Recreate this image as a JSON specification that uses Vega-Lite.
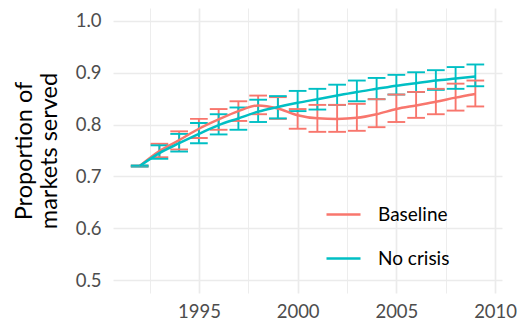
{
  "$schema": "https://vega.github.io/schema/vega-lite/v6.json",
  "width": 389,
  "height": 285,
  "autosize": "none",
  "padding": {"left": 113, "top": 8, "right": 15, "bottom": 29},
  "background": "white",
  "config": {
    "font": "Lato",
    "view": {"stroke": null}
  },
  "data": {
    "values": [
      {"year": 1992, "scenario": "Baseline", "mean": 0.720, "lo": 0.719, "hi": 0.721},
      {"year": 1993, "scenario": "Baseline", "mean": 0.749, "lo": 0.737, "hi": 0.763},
      {"year": 1994, "scenario": "Baseline", "mean": 0.770, "lo": 0.752, "hi": 0.787},
      {"year": 1995, "scenario": "Baseline", "mean": 0.792, "lo": 0.774, "hi": 0.811},
      {"year": 1996, "scenario": "Baseline", "mean": 0.810, "lo": 0.790, "hi": 0.830},
      {"year": 1997, "scenario": "Baseline", "mean": 0.826, "lo": 0.807, "hi": 0.845},
      {"year": 1998, "scenario": "Baseline", "mean": 0.837, "lo": 0.820, "hi": 0.856},
      {"year": 1999, "scenario": "Baseline", "mean": 0.831, "lo": 0.811, "hi": 0.853},
      {"year": 2000, "scenario": "Baseline", "mean": 0.818, "lo": 0.792, "hi": 0.830},
      {"year": 2001, "scenario": "Baseline", "mean": 0.812, "lo": 0.786, "hi": 0.838},
      {"year": 2002, "scenario": "Baseline", "mean": 0.811, "lo": 0.786, "hi": 0.838},
      {"year": 2003, "scenario": "Baseline", "mean": 0.813, "lo": 0.788, "hi": 0.840},
      {"year": 2004, "scenario": "Baseline", "mean": 0.820, "lo": 0.795, "hi": 0.849},
      {"year": 2005, "scenario": "Baseline", "mean": 0.830, "lo": 0.805, "hi": 0.858},
      {"year": 2006, "scenario": "Baseline", "mean": 0.837, "lo": 0.813, "hi": 0.863},
      {"year": 2007, "scenario": "Baseline", "mean": 0.844, "lo": 0.820, "hi": 0.869},
      {"year": 2008, "scenario": "Baseline", "mean": 0.852, "lo": 0.827, "hi": 0.879},
      {"year": 2009, "scenario": "Baseline", "mean": 0.859, "lo": 0.835, "hi": 0.885},
      {"year": 1992, "scenario": "No crisis", "mean": 0.720, "lo": 0.719, "hi": 0.721},
      {"year": 1993, "scenario": "No crisis", "mean": 0.745, "lo": 0.734, "hi": 0.760},
      {"year": 1994, "scenario": "No crisis", "mean": 0.764, "lo": 0.748, "hi": 0.782},
      {"year": 1995, "scenario": "No crisis", "mean": 0.782, "lo": 0.764, "hi": 0.803},
      {"year": 1996, "scenario": "No crisis", "mean": 0.799, "lo": 0.781, "hi": 0.820},
      {"year": 1997, "scenario": "No crisis", "mean": 0.812, "lo": 0.790, "hi": 0.833},
      {"year": 1998, "scenario": "No crisis", "mean": 0.825, "lo": 0.805, "hi": 0.848},
      {"year": 1999, "scenario": "No crisis", "mean": 0.834, "lo": 0.812, "hi": 0.855},
      {"year": 2000, "scenario": "No crisis", "mean": 0.842, "lo": 0.826, "hi": 0.865},
      {"year": 2001, "scenario": "No crisis", "mean": 0.849, "lo": 0.829, "hi": 0.869},
      {"year": 2002, "scenario": "No crisis", "mean": 0.856, "lo": 0.838, "hi": 0.877},
      {"year": 2003, "scenario": "No crisis", "mean": 0.863, "lo": 0.845, "hi": 0.885},
      {"year": 2004, "scenario": "No crisis", "mean": 0.869, "lo": 0.849, "hi": 0.890},
      {"year": 2005, "scenario": "No crisis", "mean": 0.875, "lo": 0.858, "hi": 0.896},
      {"year": 2006, "scenario": "No crisis", "mean": 0.880, "lo": 0.863, "hi": 0.901},
      {"year": 2007, "scenario": "No crisis", "mean": 0.885, "lo": 0.867, "hi": 0.905},
      {"year": 2008, "scenario": "No crisis", "mean": 0.889, "lo": 0.869, "hi": 0.911},
      {"year": 2009, "scenario": "No crisis", "mean": 0.893, "lo": 0.874, "hi": 0.916}
    ]
  },
  "encoding": {
    "x": {
      "field": "year",
      "type": "quantitative",
      "scale": {"domain": [1990.65, 2010.35], "nice": false, "zero": false},
      "axis": {
        "title": null,
        "values": [1992.5, 1995, 1997.5, 2000, 2002.5, 2005, 2007.5, 2010],
        "format": "d",
        "labelExpr": "datum.value % 5 === 0 ? datum.label : ''",
        "labelFontSize": 18.5,
        "labelColor": "#4D4D4D",
        "labelPadding": 9,
        "labelFlush": false,
        "ticks": false,
        "domain": false,
        "grid": true,
        "gridColor": "#EBEBEB",
        "gridWidth": {"condition": {"test": "datum.value % 5 === 0", "value": 1.7}, "value": 0.9}
      }
    },
    "color": {
      "field": "scenario",
      "type": "nominal",
      "scale": {"domain": ["Baseline", "No crisis"], "range": ["#F8766D", "#00BFC4"]},
      "legend": {
        "orient": "none",
        "legendX": 212,
        "legendY": 188,
        "title": null,
        "padding": 0,
        "symbolType": "stroke",
        "symbolSize": 1156,
        "symbolStrokeWidth": 2.5,
        "symbolOpacity": 1,
        "labelFontSize": 19,
        "labelColor": "#000000",
        "labelOffset": 16,
        "rowPadding": 15,
        "labelFont": "Lato"
      }
    }
  },
  "layer": [
    {
      "mark": {"type": "rule", "strokeWidth": 1.9, "opacity": 1},
      "encoding": {
        "y": {
          "field": "lo",
          "type": "quantitative",
          "scale": {"domain": [0.475, 1.025], "nice": false, "zero": false},
          "axis": {
            "title": ["Proportion of", "markets served"],
            "titleFontSize": 23.5,
            "titleFontWeight": "normal",
            "titleColor": "#000000",
            "titleLineHeight": 25,
            "titlePadding": 14,
            "values": [0.5, 0.55, 0.6, 0.65, 0.7, 0.75, 0.8, 0.85, 0.9, 0.95, 1.0],
            "format": ".1f",
            "labelExpr": "round(datum.value * 100) % 10 === 0 ? datum.label : ''",
            "labelFontSize": 18.5,
            "labelColor": "#4D4D4D",
            "labelPadding": 12,
            "labelFlush": false,
            "ticks": false,
            "domain": false,
            "grid": true,
            "gridColor": "#EBEBEB",
            "gridWidth": {"condition": {"test": "round(datum.value * 100) % 10 === 0", "value": 1.7}, "value": 0.9}
          }
        },
        "y2": {"field": "hi"}
      }
    },
    {
      "mark": {"type": "tick", "orient": "horizontal", "size": 17.7, "thickness": 1.9, "opacity": 1},
      "encoding": {"y": {"field": "lo", "type": "quantitative"}}
    },
    {
      "mark": {"type": "tick", "orient": "horizontal", "size": 17.7, "thickness": 1.9, "opacity": 1},
      "encoding": {"y": {"field": "hi", "type": "quantitative"}}
    },
    {
      "mark": {"type": "line", "strokeWidth": 2.5, "interpolate": "monotone"},
      "encoding": {"y": {"field": "mean", "type": "quantitative"}}
    }
  ]
}
